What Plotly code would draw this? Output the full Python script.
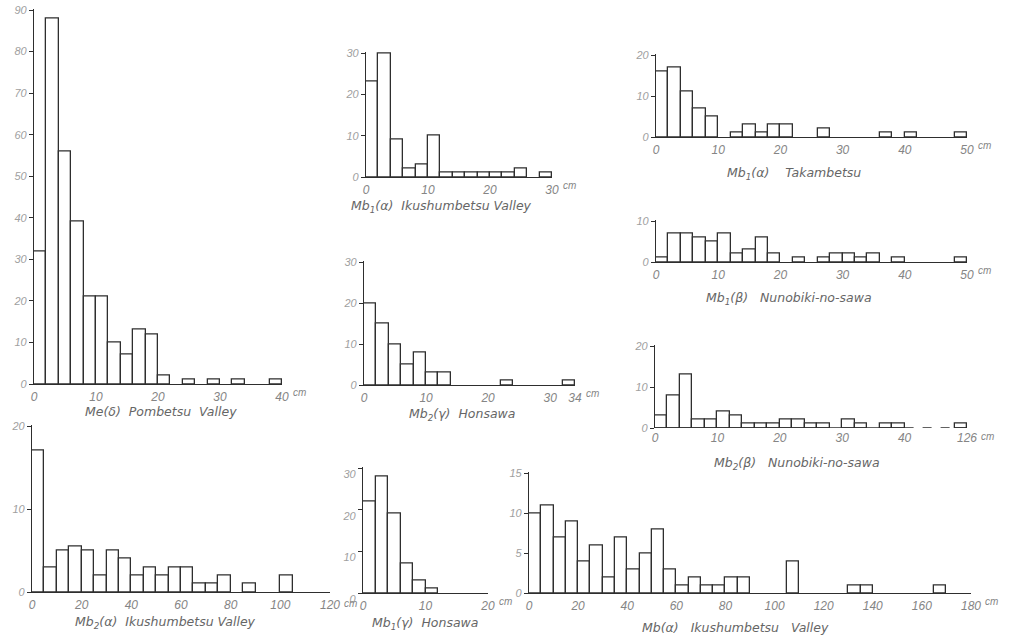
import plotly.graph_objects as go

# ---- counts per size class (bar heights) ----
me_delta_pombetsu = [32, 88, 56, 39, 21, 21, 10, 7, 13, 12, 2, 0, 1, 0, 1, 0, 1, 0, 0, 1]
mb1_alpha_ikushumbetsu = [23, 30, 9, 2, 3, 10, 1, 1, 1, 1, 1, 1, 2, 0, 1]
mb2_gamma_honsawa = [20, 15, 10, 5, 8, 3, 3, 0, 0, 0, 0, 1, 0, 0, 0, 0, 1]
mb1_alpha_takambetsu = [16, 17, 11, 7, 5, 0, 1, 3, 1, 3, 3, 0, 0, 2, 0, 0, 0, 0, 1, 0, 1, 0, 0, 0, 1]
mb1_beta_nunobiki = [1, 7, 7, 6, 5, 7, 2, 3, 6, 2, 0, 1, 0, 1, 2, 2, 1, 2, 0, 1, 0, 0, 0, 0, 1]
mb2_beta_nunobiki = [3, 8, 13, 2, 2, 4, 3, 1, 1, 1, 2, 2, 1, 1, 0, 2, 1, 0, 1, 1, 0, 0, 0, 0, 1]
mb2_alpha_ikushumbetsu = [17, 3, 5, 5.5, 5, 2, 5, 4, 2, 3, 2, 3, 3, 1, 1, 2, 0, 1, 0, 0, 2]
mb1_gamma_honsawa = [22, 28, 19, 7, 3, 1]
mb_alpha_ikushumbetsu = [10, 11, 7, 9, 4, 6, 2, 7, 3, 5, 8, 3, 1, 2, 1, 1, 2, 2,
                         0, 0, 0, 4, 0, 0, 0, 0, 1, 1, 0, 0, 0, 0, 0, 1]

# class widths (cm)
width_2cm = 2
width_5cm = 5

# tick labels
ticks_40 = [0, 10, 20, 30, 40]
ticks_30 = [0, 10, 20, 30]
ticks_34 = [0, 10, 20, 30, 34]
ticks_50 = [0, 10, 20, 30, 40, 50]
ticks_126_text = ["0", "10", "20", "30", "40", "126"]
ticks_120 = [0, 20, 40, 60, 80, 100, 120]
ticks_20 = [0, 10, 20]
ticks_180 = [0, 20, 40, 60, 80, 100, 120, 140, 160, 180]

# dashed break in the Mb2(β) baseline, in axis units (40 cm ... 126 cm class)
break_span = [40, 48]

W, H = 1010, 636
INK = "#2e2e2e"
TICK_GREY = "#858585"
YTICK_GREY = "#a0a0a0"
TITLE_GREY = "#666666"
FONT = "Liberation Sans"
TITLE_FONT = "DejaVu Sans"

fig = go.Figure()
layout = dict(
    width=W, height=H, autosize=False, margin=dict(l=0, r=0, t=0, b=0, pad=0),
    paper_bgcolor="white", plot_bgcolor="rgba(0,0,0,0)",
    showlegend=False, annotations=[], bargap=0,
)


def px_x(p):
    return p / W


def px_y(p):
    return 1 - p / H


def panel(idx, counts, bw, box, xr, yr, xticks, yticks, title, title_pos,
          xticktext=None, show_xline=True, ylabel_shift=0, cm_dy=8):
    """One histogram: box = (x0, x1, y_base, y_top) in pixels."""
    x0, x1, yb, yt = box
    xa = "x" if idx == 1 else f"x{idx}"
    ya = "y" if idx == 1 else f"y{idx}"
    # empty classes are left undrawn: only the baseline shows there
    centers = [i * bw + bw / 2 for i, c in enumerate(counts) if c > 0]
    heights = [c for c in counts if c > 0]
    fig.add_trace(go.Bar(
        x=centers, y=heights, width=bw, xaxis=xa, yaxis=ya,
        marker=dict(color="white", line=dict(color=INK, width=1.3)),
        hoverinfo="x+y",
    ))
    # a spare pixel above the top tick so a full-height bar keeps its top edge
    pad = 1.5
    y_top_val = yr[1] + yr[1] * pad / (yb - yt)
    ttext = xticktext if xticktext else [str(t) for t in xticks]
    tf = dict(family=FONT, size=12, color=TICK_GREY, style="italic")
    layout["xaxis" if idx == 1 else f"xaxis{idx}"] = dict(
        domain=[px_x(x0), px_x(x1)], range=xr, anchor=ya, automargin=False,
        showline=show_xline, linecolor=INK, linewidth=1.3,
        showgrid=False, zeroline=False, ticks="", ticklen=0,
        tickvals=xticks, ticktext=ttext, ticklabelstandoff=1,
        tickfont=tf, tickangle=0, fixedrange=True,
    )
    layout["yaxis" if idx == 1 else f"yaxis{idx}"] = dict(
        domain=[px_y(yb), px_y(yt - pad)], range=[yr[0], y_top_val], anchor=xa,
        automargin=False,
        showline=True, linecolor=INK, linewidth=1.3,
        showgrid=False, zeroline=False, ticks="outside", ticklen=4,
        tickcolor=INK, tickwidth=1, tickvals=yticks,
        tickfont=dict(family=FONT, size=11, color=YTICK_GREY, style="italic"),
        ticklabelshift=ylabel_shift, fixedrange=True,
    )
    # unit written just after the last x tick label
    layout["annotations"].append(dict(
        text="cm", xref=xa, yref="paper", x=xticks[-1], y=px_y(yb + cm_dy),
        xanchor="left", yanchor="middle", xshift=3.4 * len(ttext[-1]) + 2,
        showarrow=False,
        font=dict(family=FONT, size=10, color=TICK_GREY, style="italic"),
    ))
    layout["annotations"].append(dict(
        text=title, xref="paper", yref="paper",
        x=px_x(title_pos[0]), y=px_y(title_pos[1]),
        xanchor="center", yanchor="middle", showarrow=False,
        font=dict(family=TITLE_FONT, size=12.5, color=TITLE_GREY, style="italic"),
    ))
    return xa, ya


panel(1, me_delta_pombetsu, width_2cm, (34, 282, 384, 10), [0, 40], [0, 90],
      ticks_40, list(range(0, 91, 10)), "Me(δ)  Pombetsu  Valley", (161, 411))
panel(2, mb1_alpha_ikushumbetsu, width_2cm, (366, 552, 177, 53), [0, 30], [0, 30],
      ticks_30, [0, 10, 20, 30], "Mb<sub>1</sub>(α)  Ikushumbetsu Valley", (441, 206))
panel(3, mb2_gamma_honsawa, width_2cm, (364, 575, 385, 262), [0, 34], [0, 30],
      ticks_34, [0, 10, 20, 30], "Mb<sub>2</sub>(γ)  Honsawa", (462, 414))
panel(4, mb1_alpha_takambetsu, width_2cm, (656, 967, 137, 55), [0, 50], [0, 20],
      ticks_50, [0, 10, 20], "Mb<sub>1</sub>(α)    Takambetsu", (794, 173))
panel(5, mb1_beta_nunobiki, width_2cm, (656, 967, 262, 221), [0, 50], [0, 10],
      ticks_50, [0, 10], "Mb<sub>1</sub>(β)   Nunobiki-no-sawa", (789, 298))
xa6, ya6 = panel(6, mb2_beta_nunobiki, width_2cm, (655, 967, 428, 346), [0, 50], [0, 20],
                 ticks_50, [0, 10, 20], "Mb<sub>2</sub>(β)   Nunobiki-no-sawa", (797, 463),
                 xticktext=ticks_126_text, show_xline=False)
panel(7, mb2_alpha_ikushumbetsu, width_5cm, (32, 330, 592, 426), [0, 120], [0, 20],
      ticks_120, [0, 10, 20], "Mb<sub>2</sub>(α)  Ikushumbetsu Valley", (165, 622),
      cm_dy=11)
panel(8, mb1_gamma_honsawa, width_2cm, (363, 488, 593, 468), [0, 20], [0, 30],
      ticks_20, [0, 10, 20, 30], "Mb<sub>1</sub>(γ)  Honsawa", (425, 623),
      ylabel_shift=6)
panel(9, mb_alpha_ikushumbetsu, width_5cm, (529, 971, 593, 473), [0, 180], [0, 15],
      ticks_180, [0, 5, 10, 15], "Mb(α)   Ikushumbetsu   Valley", (735, 627))

# Mb2(β) baseline: solid up to 40 cm, dashed across the gap, solid for the last class
full_end = len(mb2_beta_nunobiki) * width_2cm
for xs, dash in (([0, break_span[0]], "solid"),
                 (break_span, "dash"),
                 ([break_span[1], full_end], "solid")):
    fig.add_trace(go.Scatter(
        x=xs, y=[0, 0], mode="lines", xaxis=xa6, yaxis=ya6,
        line=dict(color=INK, width=1.3, dash=dash), hoverinfo="skip",
        cliponaxis=False,
    ))

fig.update_layout(**layout)
fig.write_html("out.html")
